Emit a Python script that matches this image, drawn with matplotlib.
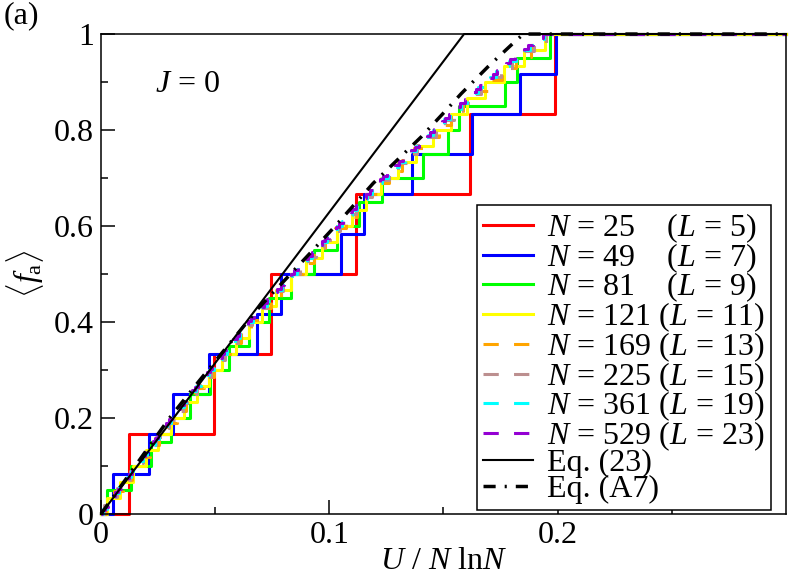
import numpy as np
import matplotlib
matplotlib.use("Agg")
import matplotlib.pyplot as plt
from matplotlib.ticker import FixedLocator, FuncFormatter

plt.rcParams['font.family'] = 'Liberation Serif'
plt.rcParams['mathtext.fontset'] = 'custom'
plt.rcParams['mathtext.rm'] = 'Liberation Serif'
plt.rcParams['mathtext.it'] = 'Liberation Serif:italic'

# jump positions (x = U / N lnN) of <f_a>; level k/K after the k-th jump
red_x = [0.0124, 0.0497, 0.0746, 0.1118, 0.1615, 0.1988]
blue_x = [0.0052, 0.0210, 0.0315, 0.0472, 0.0682, 0.0787, 0.1049, 0.1154,
          0.1363, 0.1626, 0.1835, 0.1993]
green_x = [0.0028, 0.0132, 0.0219, 0.0307, 0.0392, 0.0476, 0.0562, 0.0647,
           0.0734, 0.0832, 0.0932, 0.1033, 0.1131, 0.1230, 0.1410, 0.1520,
           0.1570, 0.1768, 0.1820, 0.1968]
yellow_x = [0.0028, 0.0084, 0.0140, 0.0195, 0.0251, 0.0307, 0.0363, 0.0419,
            0.0475, 0.0532, 0.0590, 0.0647, 0.0704, 0.0767, 0.0833, 0.0900,
            0.0967, 0.1033, 0.1098, 0.1162, 0.1227, 0.1302, 0.1380, 0.1455,
            0.1531, 0.1604, 0.1680, 0.1763, 0.1852, 0.1946]
orange_x = [0.0020, 0.0059, 0.0098, 0.0137, 0.0176, 0.0215, 0.0254, 0.0293,
            0.0332, 0.0372, 0.0412, 0.0453, 0.0493, 0.0534, 0.0575, 0.0615,
            0.0656, 0.0699, 0.0743, 0.0789, 0.0836, 0.0884, 0.0931, 0.0979,
            0.1027, 0.1074, 0.1119, 0.1165, 0.1213, 0.1263, 0.1317, 0.1372,
            0.1426, 0.1481, 0.1533, 0.1586, 0.1641, 0.1696, 0.1756, 0.1818,
            0.1884, 0.1951]
tan_x = [0.0014, 0.0043, 0.0071, 0.0100, 0.0129, 0.0157, 0.0186, 0.0214,
         0.0243, 0.0271, 0.0300, 0.0329, 0.0359, 0.0389, 0.0419, 0.0450,
         0.0480, 0.0511, 0.0541, 0.0572, 0.0602, 0.0633, 0.0663, 0.0696,
         0.0729, 0.0763, 0.0798, 0.0834, 0.0870, 0.0906, 0.0941, 0.0977,
         0.1013, 0.1048, 0.1083, 0.1117, 0.1151, 0.1187, 0.1223, 0.1260,
         0.1301, 0.1343, 0.1383, 0.1424, 0.1465, 0.1505, 0.1544, 0.1583,
         0.1624, 0.1666, 0.1708, 0.1754, 0.1800, 0.1847, 0.1897, 0.1948]
cyan_x = [0.0009, 0.0026, 0.0044, 0.0062, 0.0079, 0.0096, 0.0114, 0.0131,
          0.0149, 0.0166, 0.0184, 0.0201, 0.0219, 0.0236, 0.0254, 0.0271,
          0.0289, 0.0306, 0.0324, 0.0343, 0.0362, 0.0380, 0.0399, 0.0418,
          0.0437, 0.0456, 0.0475, 0.0494, 0.0513, 0.0532, 0.0551, 0.0570,
          0.0589, 0.0608, 0.0627, 0.0646, 0.0665, 0.0686, 0.0706, 0.0727,
          0.0747, 0.0769, 0.0791, 0.0813, 0.0835, 0.0857, 0.0880, 0.0902,
          0.0925, 0.0947, 0.0969, 0.0991, 0.1013, 0.1035, 0.1057, 0.1078,
          0.1099, 0.1120, 0.1141, 0.1163, 0.1186, 0.1208, 0.1231, 0.1255,
          0.1280, 0.1305, 0.1331, 0.1356, 0.1381, 0.1406, 0.1431, 0.1456,
          0.1480, 0.1504, 0.1529, 0.1553, 0.1577, 0.1602, 0.1627, 0.1652,
          0.1677, 0.1704, 0.1732, 0.1760, 0.1788, 0.1816, 0.1847, 0.1877,
          0.1908, 0.1939]
purple_x = [0.0006, 0.0018, 0.0030, 0.0042, 0.0051, 0.0063, 0.0075,
            0.0087, 0.0099, 0.0112, 0.0124, 0.0136, 0.0145,
            0.0157, 0.0169, 0.0181, 0.0193, 0.0205, 0.0217, 0.0226,
            0.0238, 0.0250, 0.0262, 0.0274, 0.0286, 0.0298,
            0.0311, 0.0323, 0.0335, 0.0347, 0.0362, 0.0374, 0.0386,
            0.0398, 0.0410, 0.0425, 0.0437, 0.0449, 0.0464, 0.0476,
            0.0488, 0.0500, 0.0516, 0.0528, 0.0540, 0.0555,
            0.0567, 0.0579, 0.0594, 0.0606, 0.0618, 0.0630, 0.0645,
            0.0657, 0.0672, 0.0684, 0.0699, 0.0715, 0.0727,
            0.0742, 0.0757, 0.0772, 0.0787, 0.0802, 0.0817, 0.0832,
            0.0847, 0.0862, 0.0877, 0.0892, 0.0907, 0.0923, 0.0938,
            0.0953, 0.0968, 0.0983, 0.0998, 0.1013, 0.1028,
            0.1043, 0.1058, 0.1073, 0.1085, 0.1100, 0.1115, 0.1131,
            0.1146, 0.1161, 0.1176, 0.1191, 0.1206, 0.1221,
            0.1236, 0.1254, 0.1269, 0.1287, 0.1305, 0.1324, 0.1342,
            0.1357, 0.1375, 0.1393, 0.1408, 0.1426, 0.1441, 0.1459,
            0.1474, 0.1492, 0.1507, 0.1525, 0.1541, 0.1559,
            0.1574, 0.1592, 0.1610, 0.1625, 0.1643, 0.1661, 0.1676,
            0.1697, 0.1715, 0.1734, 0.1755, 0.1773, 0.1791,
            0.1812, 0.1833, 0.1851, 0.1872, 0.1893, 0.1914, 0.1936]

# Eq. (23) and Eq. (A7)
eq23_x = [0.0, 0.159, 0.3]
eq23_f = [0.0, 1.0, 1.0]
a7_x = [0.0, 0.015, 0.030, 0.0433, 0.0689, 0.0915, 0.1024, 0.1192, 0.1403,
        0.1505, 0.1578, 0.1695, 0.1812, 0.185, 0.3]
a7_f = [0.0, 0.1, 0.2, 0.279, 0.4285, 0.543, 0.599, 0.689, 0.786,
        0.838, 0.876, 0.932, 0.984, 1.0, 1.0]

labels = [r'$N$ = 25    ($L$ = 5)', r'$N$ = 49    ($L$ = 7)',
          r'$N$ = 81    ($L$ = 9)', r'$N$ = 121 ($L$ = 11)',
          r'$N$ = 169 ($L$ = 13)', r'$N$ = 225 ($L$ = 15)',
          r'$N$ = 361 ($L$ = 19)', r'$N$ = 529 ($L$ = 23)']
series = [red_x, blue_x, green_x, yellow_x, orange_x, tan_x, cyan_x, purple_x]
colors = ['#ff0000', '#0000ff', '#00ff00', '#ffff00',
          '#ffa500', '#bc8f8f', '#00ffff', '#9400d3']
styles = ['-', '-', '-', '-', (0, (5, 5)), (0, (5, 5)), (0, (5, 5)), (0, (5, 5))]

fig = plt.figure(figsize=(7.89, 5.77), dpi=100)
ax = fig.add_axes([0.128, 0.1092, 0.8682, 0.8318])

for xs, c, ls, lab in zip(series, colors, styles, labels):
    K = len(xs)
    xx = [0.0] + list(xs) + [0.3]
    ff = [0.0] + [k / K for k in range(1, K + 1)] + [1.0]
    ax.step(xx, ff, where='post', color=c, lw=2.2, ls=ls, label=lab, clip_on=False)

ax.plot(eq23_x, eq23_f, color='black', lw=1.5, label='Eq. (23)', clip_on=False)
ax.plot(a7_x, a7_f, color='black', lw=2.5, ls=(0, (3.5, 2.6, 0.6, 2.6)),
        label='Eq. (A7)', clip_on=False)

ax.set_xlim(0, 0.3)
ax.set_ylim(0, 1)
ax.xaxis.set_major_locator(FixedLocator([0, 0.1, 0.2]))
ax.xaxis.set_minor_locator(FixedLocator([0.05, 0.15, 0.25]))
ax.yaxis.set_major_locator(FixedLocator([0, 0.2, 0.4, 0.6, 0.8, 1.0]))
ax.yaxis.set_minor_locator(FixedLocator([0.1, 0.3, 0.5, 0.7, 0.9]))
fmt = FuncFormatter(lambda v, p: '%g' % v)
ax.xaxis.set_major_formatter(fmt)
ax.yaxis.set_major_formatter(fmt)
ax.tick_params(which='both', direction='in', top=False, right=False,
               labelsize=23, width=1.1)
ax.tick_params(which='major', length=10, pad=5)
ax.tick_params(which='minor', length=5)
for sp in ax.spines.values():
    sp.set_linewidth(1.1)

ax.set_xlabel(r'$U$ / $N$ ln$N$', fontsize=23, labelpad=-2)
ax.set_ylabel(r'$\langle f_{\rm a}\rangle$', fontsize=23, labelpad=6)

ax.text(0.0236, 0.879, r'$J$ = 0', fontsize=23)
fig.text(0.005, 0.998, '(a)', fontsize=23, ha='left', va='top')

leg = ax.legend(loc='upper left', bbox_to_anchor=(0.549, 0.644), borderaxespad=0,
                fontsize=23, frameon=True, fancybox=False, framealpha=1,
                edgecolor='black', labelspacing=-0.12, handlelength=1.55,
                handletextpad=0.45, borderpad=0.2)
leg.get_frame().set_linewidth(1.1)

fig.savefig('out.png', dpi=100)
